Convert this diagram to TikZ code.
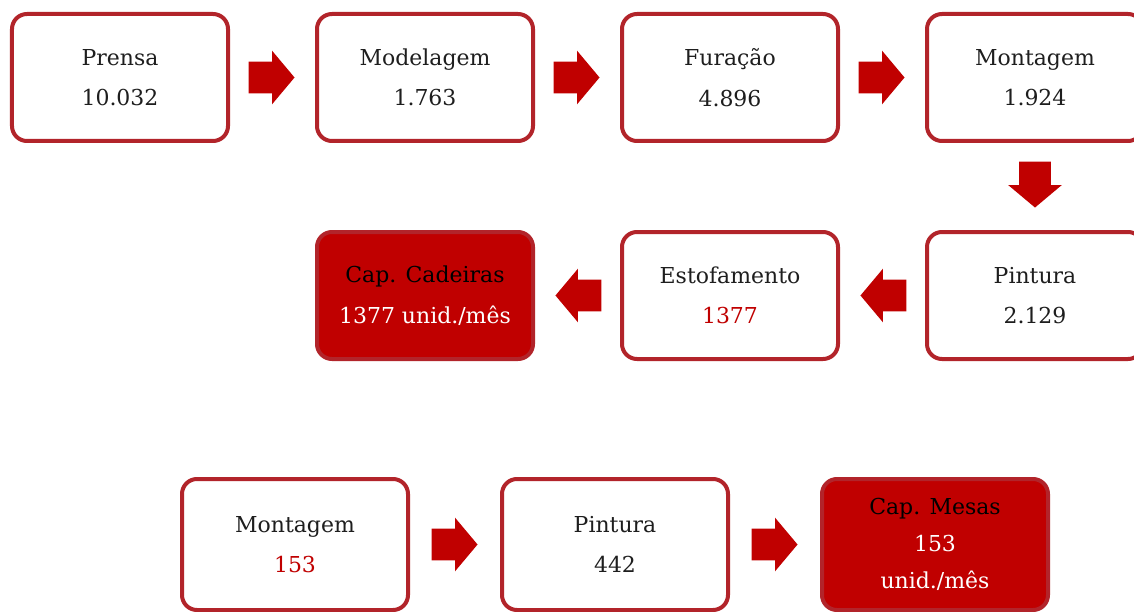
\documentclass[tikz,border=0pt]{standalone}
\usepackage{fontspec}
\setmainfont{DejaVu Serif}
\usepackage{xcolor}
\usepackage{tikz}
\usetikzlibrary{positioning,calc,shapes.arrows}

\definecolor{boxred}{RGB}{178,36,42}
\definecolor{capred}{RGB}{192,0,0}
\definecolor{txtgray}{RGB}{30,30,30}

\begin{document}
\begin{tikzpicture}[
  font=\fontsize{12.5}{23}\selectfont,
  box/.style={draw=boxred, line width=0.08cm, rounded corners=0.3cm, fill=white,
    align=center, text=txtgray, minimum width=4.32cm, minimum height=2.54cm},
  widebox/.style={box, minimum width=4.52cm, minimum height=2.62cm},
  capbox/.style={fill=capred, text=black},
  blockarr/.style={single arrow, fill=capred, draw=none, inner sep=0.31cm,
    text width=0pt, text height=0pt, text depth=0pt,
    minimum height=0.92cm, minimum width=0pt, anchor=tip,
    single arrow head extend=0.22cm, single arrow tip angle=100},
]
\useasboundingbox (0,0) rectangle (22.68,-12.24);
\clip (0,0) rectangle (22.68,-12.24);
% cadeiras
\node[box] (prensa) at (2.4,-1.55) {Prensa\\10.032};
\node[box, right=1.7cm of prensa] (model) {Modelagem\\1.763};
\node[box, right=1.7cm of model] (furacao) {Furação\\4.896};
\node[box, right=1.7cm of furacao] (montC) {Montagem\\1.924};
\node[box, below=1.74cm of montC] (pintC) {Pintura\\2.129};
\node[box, left=1.7cm of pintC] (estof) {Estofamento\\\textcolor{capred}{1377}};
\node[box, capbox, left=1.7cm of estof] (capC) {Cap. Cadeiras\\\textcolor{white}{1377 unid./mês}};
% mesas
\node[widebox] (montM) at (5.9,-10.89) {Montagem\\\textcolor{capred}{153}};
\node[widebox, right=1.8cm of montM] (pintM) {Pintura\\442};
\node[widebox, capbox, right=1.8cm of pintM, font=\fontsize{12.5}{21}\selectfont] (capM) {Cap. Mesas\\\textcolor{white}{153}\\\textcolor{white}{unid./mês}};
% setas (ponta a 0.4cm da caixa seguinte)
\node[blockarr] at ($(model.west)!0.4cm!(prensa.east)$) (a1) {};
\node[blockarr] at ($(furacao.west)!0.4cm!(model.east)$) (a2) {};
\node[blockarr] at ($(montC.west)!0.4cm!(furacao.east)$) (a3) {};
\node[blockarr, shape border rotate=270] at ($(pintC.north)!0.44cm!(montC.south)$) (a4) {};
\node[blockarr, shape border rotate=180] at ($(estof.east)!0.4cm!(pintC.west)$) (a5) {};
\node[blockarr, shape border rotate=180] at ($(capC.east)!0.4cm!(estof.west)$) (a6) {};
\node[blockarr] at ($(pintM.west)!0.44cm!(montM.east)$) (a7) {};
\node[blockarr] at ($(capM.west)!0.44cm!(pintM.east)$) (a8) {};
\end{tikzpicture}
\end{document}
